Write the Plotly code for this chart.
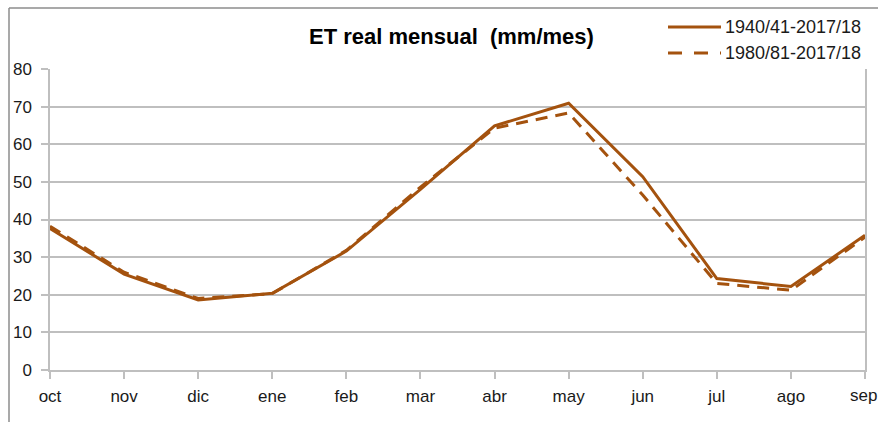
import plotly.graph_objects as go

# Monthly real evapotranspiration (mm/month), hydrological year Oct-Sep
months = ["oct", "nov", "dic", "ene", "feb", "mar", "abr", "may", "jun", "jul", "ago", "sep"]
et_1940 = [37.6, 25.5, 18.6, 20.4, 31.6, 48.0, 64.9, 70.9, 51.4, 24.3, 22.2, 35.8]
et_1980 = [38.2, 26.0, 19.0, 20.3, 31.8, 48.6, 64.3, 68.3, 46.5, 23.0, 21.2, 35.3]
series_names = ["1940/41-2017/18", "1980/81-2017/18"]

color = "#A4520E"
grid = "#BFBFBF"
font_family = "Liberation Sans, Arial, sans-serif"

fig = go.Figure()
fig.add_trace(go.Scatter(x=list(range(len(months))), y=et_1940, mode="lines",
                         name=series_names[0], line=dict(color=color, width=3)))
fig.add_trace(go.Scatter(x=list(range(len(months))), y=et_1980, mode="lines",
                         name=series_names[1], line=dict(color=color, width=3, dash="12px,8px")))

# Plot area spans x 50..865 px, y 69..370 px
L, R, T, B = 50, 13, 69, 52
W, H = 878, 422
pw, ph = W - L - R, H - T - B


def px_x(px):
    return (px - L) / pw


def px_y(py):
    return (H - B - py) / ph


shapes = [
    # outer chart frame (left and top edges visible)
    dict(type="line", xref="paper", yref="paper", x0=px_x(9), x1=px_x(9), y0=px_y(8), y1=px_y(422),
         line=dict(color="#8C8C8C", width=1.5)),
    dict(type="line", xref="paper", yref="paper", x0=px_x(9), x1=px_x(878), y0=px_y(8), y1=px_y(8),
         line=dict(color="#8C8C8C", width=1.5)),
    # legend samples
    dict(type="line", xref="paper", yref="paper", x0=px_x(668), x1=px_x(721), y0=px_y(27), y1=px_y(27),
         line=dict(color=color, width=3)),
    dict(type="line", xref="paper", yref="paper", x0=px_x(668), x1=px_x(721), y0=px_y(53), y1=px_y(53),
         line=dict(color=color, width=3, dash="14px,12px")),
]

annotations = [
    dict(text="<b>ET real mensual  (mm/mes)</b>", xref="paper", yref="paper",
         x=px_x(451), y=px_y(37), xanchor="center", yanchor="middle", showarrow=False,
         font=dict(family=font_family, size=22, color="#000000")),
    dict(text=series_names[0], xref="paper", yref="paper", x=px_x(723), y=px_y(27),
         xanchor="left", yanchor="middle", showarrow=False,
         font=dict(family=font_family, size=18, color="#1a1a1a")),
    dict(text=series_names[1], xref="paper", yref="paper", x=px_x(723), y=px_y(53),
         xanchor="left", yanchor="middle", showarrow=False,
         font=dict(family=font_family, size=18, color="#1a1a1a")),
    # last month label sits against the right edge of the figure
    dict(text=months[-1], xref="paper", yref="paper", x=1 + px_x(W) - px_x(L + pw), y=px_y(396),
         xanchor="right", yanchor="middle", showarrow=False, borderpad=0,
         font=dict(family=font_family, size=17, color="#1a1a1a")),
]

fig.update_layout(
    width=W, height=H,
    autosize=False,
    margin=dict(l=L, r=R, t=T, b=B),
    paper_bgcolor="white", plot_bgcolor="white",
    showlegend=False,
    shapes=shapes,
    annotations=annotations,
    font=dict(family=font_family, size=17, color="#1a1a1a"),
)

fig.update_xaxes(
    range=[0, len(months) - 1],
    tickmode="array", tickvals=list(range(len(months))), ticktext=months[:-1] + [""],
    showgrid=False, zeroline=False,
    showline=True, linecolor=grid, linewidth=1.5, mirror=False,
    ticks="outside", ticklen=7, tickcolor=grid, tickwidth=1.5,
    tickfont=dict(size=17), ticklabelstandoff=3,
)
fig.update_yaxes(
    range=[0, 80], dtick=10,
    showgrid=True, gridcolor=grid, gridwidth=1.5, zeroline=False,
    showline=True, linecolor=grid, linewidth=1.5, mirror=True,
    ticks="outside", ticklen=7, tickcolor=grid, tickwidth=1.5,
    tickfont=dict(size=17), ticklabelstandoff=6,
)

# keep the page free of scrollbars so the figure gets the full window
page_css = (
    "document.documentElement.style.overflow='hidden';"
    "document.body.style.margin='0';"
    "document.body.style.overflow='hidden';"
)
fig.write_html("out.html", config={"responsive": False}, post_script=page_css)
